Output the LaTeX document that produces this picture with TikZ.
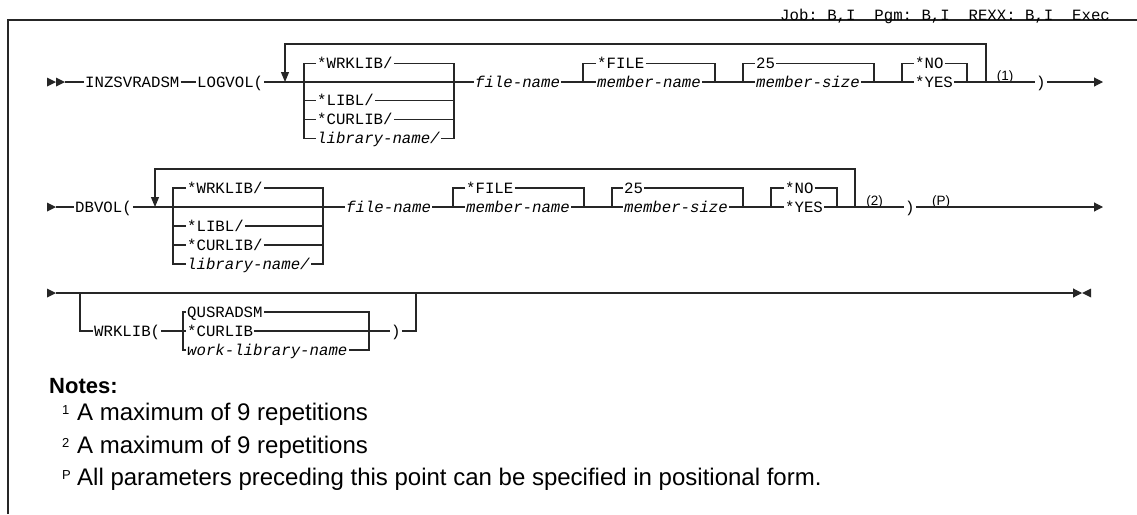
\documentclass[tikz,border=0pt]{standalone}
\usepackage{fontspec}
\setmainfont{Liberation Sans}
\newfontfamily\dgmonofam{Liberation Mono}
\newcommand\dgmono{\dgmonofam\fontsize{15.7pt}{18pt}\selectfont}
\usetikzlibrary{arrows.meta}
\tikzset{
  lab/.style={font=\dgmono, inner xsep=1pt, inner ysep=0pt, text height=10.3pt, text depth=0pt, anchor=west},
  ilab/.style={lab, font=\dgmono\itshape},
  fnote/.style={font=\fontsize{13.5pt}{15pt}\selectfont, inner sep=0pt, anchor=south},
  rail/.style={line width=1.1pt, draw=black!85},
  endtip/.style={-{Triangle[length=9pt,width=9pt]}},
  looptip/.style={-{Triangle[length=10pt,width=8pt]}},
  notet/.style={font=\fontsize{24pt}{27pt}\selectfont, inner sep=0pt, anchor=base west},
  noteh/.style={font=\fontsize{22pt}{26pt}\selectfont\bfseries, inner sep=0pt, anchor=base west},
  notesup/.style={font=\fontsize{13pt}{15pt}\selectfont, inner sep=0pt, anchor=base west},
}
\begin{document}
\begin{tikzpicture}[x=1pt,y=-1pt]
\useasboundingbox (0,0) rectangle (1137,514);
% frame and header
\coordinate (fBL) at (8,514);
\coordinate (fTL) at (8,20);
\coordinate (fTR) at (1137,20);
\draw[rail] (fBL) -- (fTL) -- (fTR);
\node[font=\dgmono, inner sep=0pt, anchor=base west] (hdr) at (780,20.3) {Job:~B,I~~Pgm:~B,I~~REXX:~B,I~~Exec};

% ---------------- Row 1 ----------------
\fill[black!85] (47,77.5) -- (56,82) -- (47,86.5) -- cycle;
\fill[black!85] (56,77.5) -- (65,82) -- (56,86.5) -- cycle;
\coordinate (s1) at (65,82);
\node[lab] (inz) at (84,82) {INZSVRADSM};
\node[lab] (logvol) at (196,82) {LOGVOL(};
\coordinate (l1) at (285,82);
\coordinate (a1L) at (304,82);
\coordinate (a1R) at (454,82);
\node[lab] (wrk1) at (316,63.2) {*WRKLIB/};
\node[lab] (libl1) at (316,100.8) {*LIBL/};
\node[lab] (cur1) at (316,119.6) {*CURLIB/};
\node[ilab] (lib1) at (316,138.4) {library-name/};
\node[ilab] (fn1) at (474,82) {file-name};
\coordinate (b1L) at (583,82);
\coordinate (b1R) at (715,82);
\node[lab] (file1) at (596,63.2) {*FILE};
\node[ilab] (mem1) at (596,82) {member-name};
\coordinate (c1L) at (743,82);
\coordinate (c1R) at (874,82);
\node[lab] (d25a) at (755,63.2) {25};
\node[ilab] (msz1) at (755,82) {member-size};
\coordinate (e1L) at (902,82);
\coordinate (e1R) at (967,82);
\node[lab] (no1) at (914,63.2) {*NO};
\node[lab] (yes1) at (914,82) {*YES};
\coordinate (lp1R) at (986,82);
\coordinate (lt1) at (986,44);
\node[lab] (rp1) at (1035,82) {)};
\node[fnote] (n1) at (1005,83) {(1)};
\coordinate (end1) at (1103,82);

\draw[rail] (s1) -- (inz.west);
\draw[rail] (inz.east) -- (logvol.west);
\draw[rail] (logvol.east) -- (a1L) -- (a1R) -- (fn1.west);
\draw[rail] (wrk1.west) -- (wrk1.west -| a1L) -- (lib1.west -| a1L) -- (lib1.west);
\draw[rail] (wrk1.east) -- (wrk1.east -| a1R) -- (lib1.east -| a1R) -- (lib1.east);
\draw[rail] (libl1.west -| a1L) -- (libl1.west);
\draw[rail] (libl1.east) -- (libl1.east -| a1R);
\draw[rail] (cur1.west -| a1L) -- (cur1.west);
\draw[rail] (cur1.east) -- (cur1.east -| a1R);
\draw[rail] (fn1.east) -- (b1L) -- (mem1.west);
\draw[rail] (file1.west) -- (file1.west -| b1L) -- (b1L);
\draw[rail] (file1.east) -- (file1.east -| b1R) -- (b1R);
\draw[rail] (mem1.east) -- (b1R) -- (c1L) -- (msz1.west);
\draw[rail] (d25a.west) -- (d25a.west -| c1L) -- (c1L);
\draw[rail] (d25a.east) -- (d25a.east -| c1R) -- (c1R);
\draw[rail] (msz1.east) -- (c1R) -- (e1L) -- (yes1.west);
\draw[rail] (no1.west) -- (no1.west -| e1L) -- (e1L);
\draw[rail] (no1.east) -- (no1.east -| e1R) -- (e1R);
\draw[rail] (yes1.east) -- (e1R) -- (lp1R) -- (rp1.west);
\draw[rail, looptip] (lp1R) -- (lt1) -| (l1);
\draw[rail, endtip] (rp1.east) -- (end1);

% ---------------- Row 2 ----------------
\fill[black!85] (47,202.5) -- (56,207) -- (47,211.5) -- cycle;
\coordinate (s2) at (56,207);
\node[lab] (dbvol) at (74,207) {DBVOL(};
\coordinate (l2) at (155,207);
\coordinate (a2L) at (173,207);
\coordinate (a2R) at (323,207);
\node[lab] (wrk2) at (186,188) {*WRKLIB/};
\node[lab] (libl2) at (186,226) {*LIBL/};
\node[lab] (cur2) at (186,245) {*CURLIB/};
\node[ilab] (lib2) at (186,264) {library-name/};
\node[ilab] (fn2) at (345,207) {file-name};
\coordinate (b2L) at (453,207);
\coordinate (b2R) at (584,207);
\node[lab] (file2) at (465,188) {*FILE};
\node[ilab] (mem2) at (465,207) {member-name};
\coordinate (c2L) at (612,207);
\coordinate (c2R) at (743,207);
\node[lab] (d25b) at (623,188) {25};
\node[ilab] (msz2) at (623,207) {member-size};
\coordinate (e2L) at (771,207);
\coordinate (e2R) at (837,207);
\node[lab] (no2) at (784,188) {*NO};
\node[lab] (yes2) at (784,207) {*YES};
\coordinate (lp2R) at (855,207);
\coordinate (lt2) at (855,169);
\node[fnote] (n2) at (874.5,208) {(2)};
\node[lab] (rp2) at (904,207) {)};
\node[fnote] (nP) at (941,208) {(P)};
\coordinate (end2) at (1103,207);

\draw[rail] (s2) -- (dbvol.west);
\draw[rail] (dbvol.east) -- (a2L) -- (a2R) -- (fn2.west);
\draw[rail] (wrk2.west) -- (wrk2.west -| a2L) -- (lib2.west -| a2L) -- (lib2.west);
\draw[rail] (wrk2.east) -- (wrk2.east -| a2R) -- (lib2.east -| a2R) -- (lib2.east);
\draw[rail] (libl2.west -| a2L) -- (libl2.west);
\draw[rail] (libl2.east) -- (libl2.east -| a2R);
\draw[rail] (cur2.west -| a2L) -- (cur2.west);
\draw[rail] (cur2.east) -- (cur2.east -| a2R);
\draw[rail] (fn2.east) -- (b2L) -- (mem2.west);
\draw[rail] (file2.west) -- (file2.west -| b2L) -- (b2L);
\draw[rail] (file2.east) -- (file2.east -| b2R) -- (b2R);
\draw[rail] (mem2.east) -- (b2R) -- (c2L) -- (msz2.west);
\draw[rail] (d25b.west) -- (d25b.west -| c2L) -- (c2L);
\draw[rail] (d25b.east) -- (d25b.east -| c2R) -- (c2R);
\draw[rail] (msz2.east) -- (c2R) -- (e2L) -- (yes2.west);
\draw[rail] (no2.west) -- (no2.west -| e2L) -- (e2L);
\draw[rail] (no2.east) -- (no2.east -| e2R) -- (e2R);
\draw[rail] (yes2.east) -- (e2R) -- (lp2R) -- (rp2.west);
\draw[rail, looptip] (lp2R) -- (lt2) -| (l2);
\draw[rail, endtip] (rp2.east) -- (end2);

% ---------------- Row 3 ----------------
\fill[black!85] (47,288.5) -- (56,293) -- (47,297.5) -- cycle;
\coordinate (s3) at (56,293);
\coordinate (o3L) at (80,293);
\coordinate (o3R) at (416,293);
\coordinate (o3Lb) at (80,331);
\coordinate (o3Rb) at (416,331);
\node[lab] (wl) at (93,331) {WRKLIB(};
\coordinate (f3L) at (183,331);
\coordinate (f3R) at (369,331);
\node[lab] (qus) at (186,312) {QUSRADSM};
\node[lab] (cur3) at (186,331) {*CURLIB};
\node[ilab] (wln) at (186,350) {work-library-name};
\node[lab] (rp3) at (390,331) {)};
\coordinate (end3) at (1082,293);
\coordinate (stop3) at (1091,293);

\draw[rail, endtip] (s3) -- (o3L) -- (o3R) -- (end3);
\fill[black!85] (stop3) ++(0,-4.5) -- (end3) -- ++(9,4.5) -- cycle;
\draw[rail] (o3L) -- (o3Lb) -- (wl.west);
\draw[rail] (wl.east) -- (f3L) -- (cur3.west);
\draw[rail] (qus.west) -- (qus.west -| f3L) -- (wln.west -| f3L) -- (wln.west);
\draw[rail] (qus.east) -- (qus.east -| f3R) -- (wln.east -| f3R) -- (wln.east);
\draw[rail] (cur3.east) -- (f3R) -- (rp3.west);
\draw[rail] (rp3.east) -- (o3Rb) -- (o3R);

% ---------------- Notes ----------------
\node[noteh] (notes) at (49,393) {Notes:};
\node[notesup] (sup1) at (62,414) {1};
\node[notet] (note1) at (77,420) {A maximum of 9 repetitions};
\node[notesup] (sup2) at (62,447) {2};
\node[notet] (note2) at (77,453) {A maximum of 9 repetitions};
\node[notesup] (supP) at (62,479) {P};
\node[notet] (noteP) at (77,485) {All parameters preceding this point can be specified in positional form.};
\end{tikzpicture}
\end{document}
